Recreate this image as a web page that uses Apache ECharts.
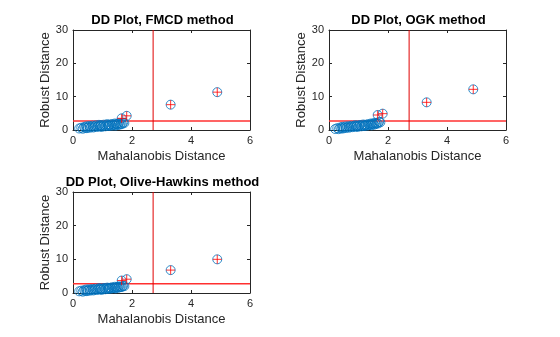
<!DOCTYPE html>
<html><head><meta charset="utf-8">
<script src="https://cdn.jsdelivr.net/npm/echarts@6/dist/echarts.min.js"></script>
<style>html,body{margin:0;padding:0;background:#fff}#c{width:560px;height:337px}</style>
</head><body><div id="c"></div>
<script>
// Classical Mahalanobis distances (shared by all three panels)
const mahal = [0.21,0.28,0.33,0.38,0.42,0.45,0.47,0.51,0.55,0.58,0.62,0.66,0.69,0.73,0.77,0.80,0.84,0.88,0.91,0.93,0.95,0.98,1.02,1.05,1.09,1.12,1.16,1.19,1.21,1.23,1.26,1.30,1.33,1.37,1.40,1.42,1.44,1.47,1.50,1.53,1.56,1.59,1.62,1.66,1.70,1.74,1.65,1.82,3.31,4.89];
// Robust distances per method
const rdFMCD = [0.45,0.70,0.38,0.90,0.62,1.10,0.55,0.80,1.20,0.70,0.95,1.30,0.75,1.05,1.40,0.90,1.15,1.55,1.00,1.25,1.45,0.95,1.30,1.60,1.10,1.40,1.75,1.20,1.50,1.35,1.65,1.25,1.80,1.45,1.55,1.95,1.30,1.70,1.85,1.50,2.05,1.65,1.90,1.75,2.20,2.10,3.50,4.25,7.60,11.35];
const rdOGK = [0.30,0.55,0.25,0.75,0.50,0.95,0.45,0.70,1.05,0.60,0.85,1.15,0.70,0.95,1.25,0.85,1.10,1.40,0.95,1.20,1.35,0.95,1.25,1.50,1.10,1.35,1.65,1.20,1.45,1.35,1.60,1.30,1.75,1.50,1.60,1.95,1.40,1.80,1.95,1.60,2.15,1.80,2.05,1.95,2.45,2.30,4.50,4.90,8.30,12.20];
const rdOH = [0.50,0.70,0.40,0.85,0.60,1.05,0.55,0.80,1.10,0.70,0.90,1.20,0.75,1.00,1.30,0.90,1.10,1.45,1.00,1.20,1.35,0.95,1.25,1.50,1.10,1.35,1.60,1.20,1.45,1.35,1.55,1.30,1.70,1.45,1.50,1.85,1.35,1.65,1.80,1.55,1.95,1.70,1.85,1.80,2.10,2.05,3.70,4.10,6.80,10.00];
const cutoff = 2.716;
const titles = ['DD Plot, FMCD method','DD Plot, OGK method','DD Plot, Olive-Hawkins method'];
const xTicks = [0,2,4,6];
const yTicks = [0,10,20,30];

const FONT = 'Liberation Sans, Arial, Helvetica, sans-serif';
const TXT = '#262626';
const grids = [
  {left:73, top:30, width:177, height:100},
  {left:329, top:30, width:177, height:100},
  {left:73, top:192, width:177, height:101}
];
const rds = [rdFMCD, rdOGK, rdOH];

const option = {animation:false, title:[], grid:[], xAxis:[], yAxis:[], series:[]};
grids.forEach((g,i)=>{
  option.grid.push(Object.assign({containLabel:false, show:false}, g));
  option.title.push({text:titles[i], left:g.left+g.width/2-4, top:g.top-21, textAlign:'center',
    textStyle:{fontFamily:FONT, fontSize:13, fontWeight:'bold', color:'#000'}});
  const base = {min:xTicks[0], max:xTicks[xTicks.length-1], interval:2, gridIndex:i,
    axisLine:{onZero:false, lineStyle:{color:TXT, width:1}},
    axisTick:{inside:true, length:3, lineStyle:{color:TXT}}, splitLine:{show:false}};
  option.xAxis.push(Object.assign({}, base, {type:'value', position:'bottom',
    name:'Mahalanobis Distance', nameLocation:'middle', nameGap:20,
    nameTextStyle:{fontFamily:FONT, fontSize:13, color:TXT},
    axisLabel:{fontFamily:FONT, fontSize:11, color:TXT, margin:5}}));
  option.xAxis.push(Object.assign({}, base, {type:'value', position:'top', axisLabel:{show:false}}));
  const ybase = {min:yTicks[0], max:yTicks[yTicks.length-1], interval:10, gridIndex:i,
    axisLine:{onZero:false, lineStyle:{color:TXT, width:1}},
    axisTick:{inside:true, length:3, lineStyle:{color:TXT}}, splitLine:{show:false}};
  option.yAxis.push(Object.assign({}, ybase, {type:'value', position:'left',
    name:'Robust Distance', nameLocation:'middle', nameGap:18, nameRotate:90,
    nameTextStyle:{fontFamily:FONT, fontSize:13, color:TXT},
    axisLabel:{fontFamily:FONT, fontSize:11, color:TXT, margin:5}}));
  option.yAxis.push(Object.assign({}, ybase, {type:'value', position:'right', axisLabel:{show:false}}));
  const xi = 2*i, yi = 2*i;
  const pts = mahal.map((m,k)=>[m, rds[i][k]]);
  option.series.push({type:'line', xAxisIndex:xi, yAxisIndex:yi, data:[[xTicks[0],cutoff],[xTicks[xTicks.length-1],cutoff]],
    symbol:'none', lineStyle:{color:'#ff3030', width:1.5}, silent:true, z:1});
  option.series.push({type:'line', xAxisIndex:xi, yAxisIndex:yi, data:[[cutoff,yTicks[0]],[cutoff,yTicks[yTicks.length-1]]],
    symbol:'none', lineStyle:{color:'#e00000', width:1}, silent:true, z:1});
  option.series.push({type:'scatter', xAxisIndex:xi, yAxisIndex:yi, data:pts, symbol:'circle', symbolSize:9,
    itemStyle:{color:'rgba(0,0,0,0)', borderColor:'#0072BD', borderWidth:1}, z:3});
  option.series.push({type:'scatter', xAxisIndex:xi, yAxisIndex:yi, data:pts.filter(p=>p[1]>cutoff),
    symbol:'path://M0,5L10,5M5,0L5,10', symbolSize:9, symbolKeepAspect:true,
    itemStyle:{color:'none', borderColor:'#ff0000', borderWidth:1}, z:4});
});
const chart = echarts.init(document.getElementById('c'), null, {renderer:'canvas'});
chart.setOption(option);
</script></body></html>
